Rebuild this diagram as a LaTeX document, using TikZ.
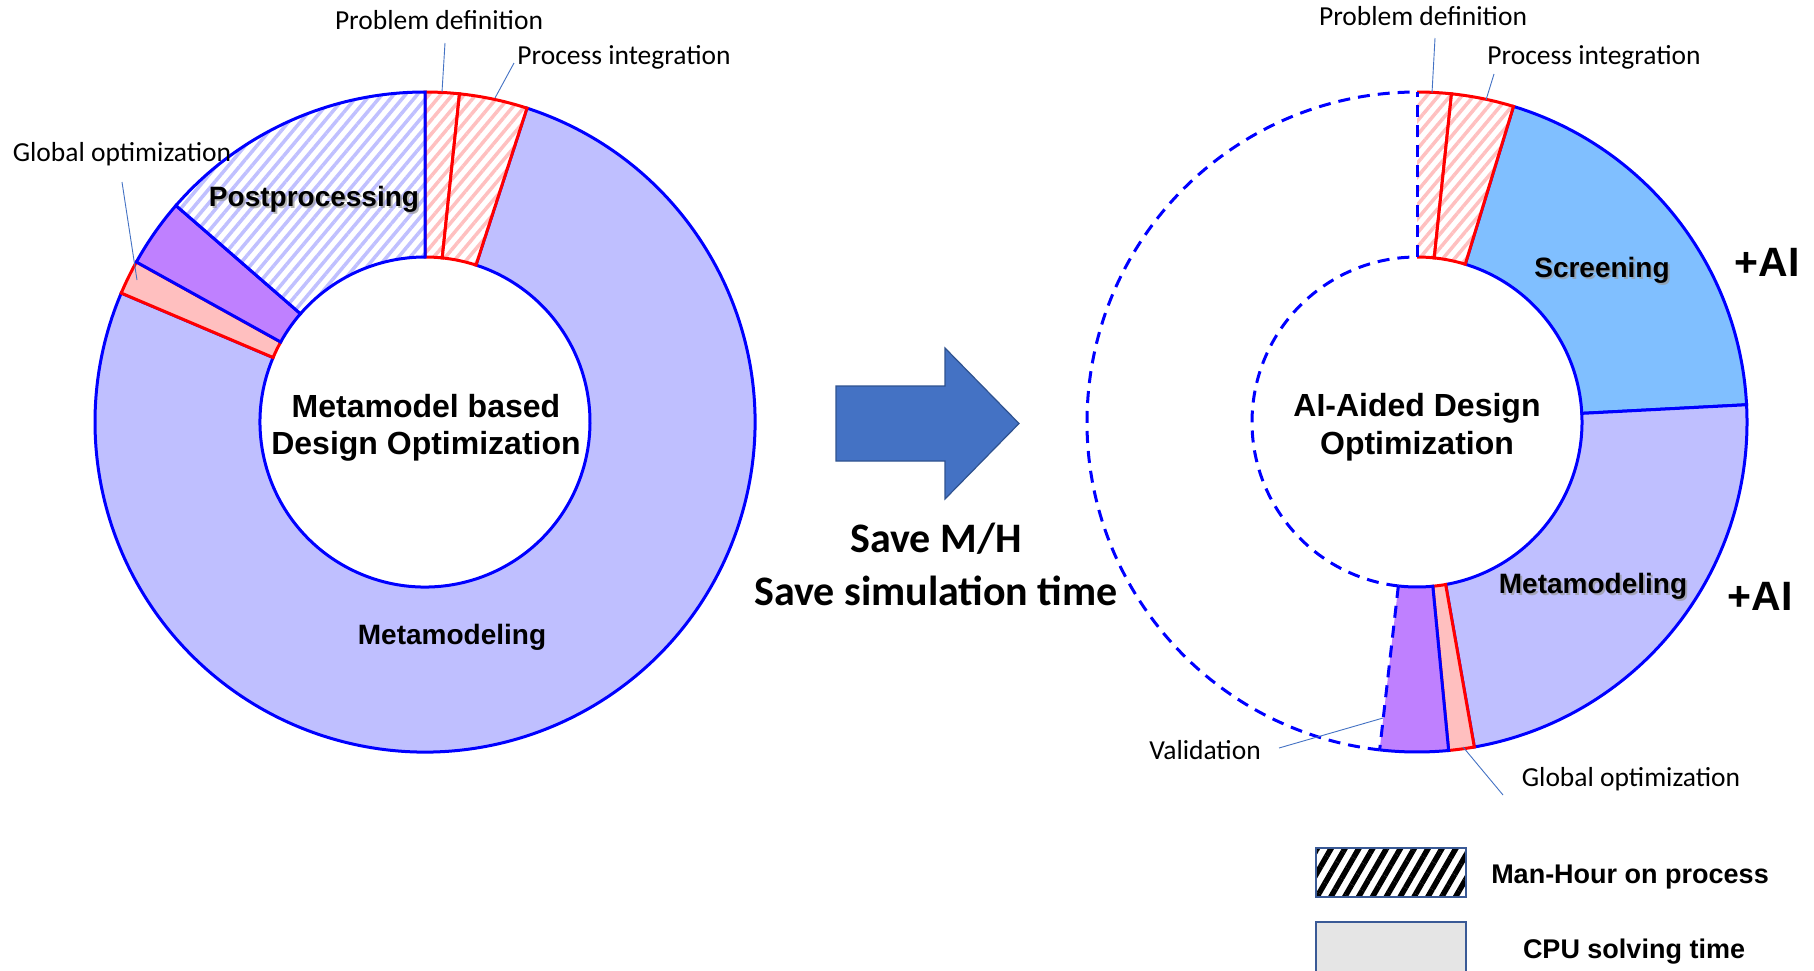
\documentclass[tikz,border=0pt]{standalone}
\usepackage{fontspec}
\setmainfont{Liberation Sans}
\newfontfamily\calfont{Carlito}
\usetikzlibrary{patterns.meta}

\definecolor{metafill}{HTML}{BFBFFF}
\definecolor{validfill}{HTML}{BF80FF}
\definecolor{optfill}{HTML}{FFBFBF}
\definecolor{screenfill}{HTML}{80BFFF}
\definecolor{hatchblue}{HTML}{C0C0FF}
\definecolor{hatchred}{HTML}{FFC0C0}
\definecolor{edgeblue}{HTML}{0000FF}
\definecolor{edgered}{HTML}{FF0000}
\definecolor{arrowfill}{HTML}{4472C4}
\definecolor{arrowedge}{HTML}{2F528F}
\definecolor{leadercol}{HTML}{4472C4}
\definecolor{legendedge}{HTML}{3A5A96}
\definecolor{legendgray}{HTML}{E5E5E5}

% ring radii
\newcommand\Ro{330}
\newcommand\Ri{165}

% closed ring sector: centre (#1,#2), clockwise angles from 12 o'clock #3..#4, options #5
\newcommand\ringsector[5]{%
  \path[#5] ({#1+\Ro*cos(90-#3)},{#2+\Ro*sin(90-#3)})
    arc[start angle={90-#3}, end angle={90-#4}, radius=\Ro]
    -- ({#1+\Ri*cos(90-#4)},{#2+\Ri*sin(90-#4)})
    arc[start angle={90-#4}, end angle={90-#3}, radius=\Ri] -- cycle;}
% same outline without the radial edge at #3
\newcommand\ringopen[5]{%
  \path[#5] ({#1+\Ro*cos(90-#3)},{#2+\Ro*sin(90-#3)})
    arc[start angle={90-#3}, end angle={90-#4}, radius=\Ro]
    -- ({#1+\Ri*cos(90-#4)},{#2+\Ri*sin(90-#4)})
    arc[start angle={90-#4}, end angle={90-#3}, radius=\Ri];}
% radial edge of a ring at clockwise angle #3, options #4
\newcommand\ringradial[4]{%
  \path[#4] ({#1+\Ri*cos(90-#3)},{#2+\Ri*sin(90-#3)})
    -- ({#1+\Ro*cos(90-#3)},{#2+\Ro*sin(90-#3)});}

\tikzset{
  x=1pt, y=1pt,
  bedge/.style={draw=edgeblue, line width=3pt},
  redge/.style={draw=edgered, line width=3pt},
  dashedge/.style={draw=edgeblue, line width=3pt, dash pattern=on 12pt off 8pt},
  bluehatch/.style={pattern={Lines[angle=50,distance=9pt,line width=3.5pt]}, pattern color=hatchblue},
  redhatch/.style={pattern={Lines[angle=50,distance=9pt,line width=3.5pt]}, pattern color=hatchred},
  smalllabel/.style={font=\calfont\fontsize{27.5}{32}\selectfont, inner sep=0pt},
  slicelabel/.style={font=\bfseries\fontsize{28}{33}\selectfont, inner sep=0pt},
  shadowtext/.style={slicelabel, text=black!40, opacity=0.7},
  centrelabel/.style={font=\bfseries\fontsize{32}{38}\selectfont, align=center, inner sep=0pt},
  ailabel/.style={font=\bfseries\fontsize{41}{48}\selectfont, inner sep=0pt},
  savelabel/.style={font=\calfont\bfseries\fontsize{42}{52}\selectfont, inner sep=0pt},
  legendlabel/.style={font=\bfseries\fontsize{27}{31}\selectfont, inner sep=0pt},
  leader/.style={draw=leadercol, line width=0.9pt},
  legendbox/.style={draw=legendedge, line width=2.2pt},
}

\begin{document}
\begin{tikzpicture}
\useasboundingbox[fill=white] (0,0) rectangle (1814,-970);

% ---------------- left ring: metamodel based design optimization ----------------
\ringsector{425}{-422}{18}{293}{fill=metafill, bedge}
\ringsector{425}{-422}{293}{299}{fill=optfill, redge}
\ringsector{425}{-422}{299}{311}{fill=validfill, bedge}
\ringsector{425}{-422}{0}{6}{fill=white}
\ringsector{425}{-422}{0}{6}{redhatch, redge}
\ringsector{425}{-422}{6}{18}{fill=white}
\ringsector{425}{-422}{6}{18}{redhatch, redge}
\ringsector{425}{-422}{311}{360}{fill=white}
\ringsector{425}{-422}{311}{360}{bluehatch, bedge}

\node[centrelabel] (lcentre) at (426,-428) {Metamodel based\\[-0.5pt]Design Optimization};
\node[shadowtext] (lpostsh) at (316,-201) {Postprocessing};
\node[slicelabel] (lpost) at (314,-199) {Postprocessing};
\node[slicelabel] (lmeta) at (452,-637) {Metamodeling};

\node[smalllabel] (lpd) at (439,-20) {Problem definition};
\node[smalllabel] (lpi) at (624,-57) {Process integration};
\node[smalllabel] (lgo) at (122,-154) {Global optimization};
\coordinate (lpd-a) at (445,-43);  \coordinate (lpd-b) at (442,-92);
\coordinate (lpi-a) at (514,-63);  \coordinate (lpi-b) at (495,-98);
\coordinate (lgo-a) at (122,-182); \coordinate (lgo-b) at (137,-280);
\draw[leader] (lpd-a) -- (lpd-b);
\draw[leader] (lpi-a) -- (lpi-b);
\draw[leader] (lgo-a) -- (lgo-b);

% ---------------- block arrow and savings ----------------
\path[fill=arrowfill, draw=arrowedge, line width=1.2pt]
  (836,-386) -- (945,-386) -- (945,-348) -- (1019,-423.5)
  -- (945,-499) -- (945,-461) -- (836,-461) -- cycle;
\node[savelabel] (save1) at (936,-539) {Save M/H};
\node[savelabel] (save2) at (936,-591) {Save simulation time};

% ---------------- right ring: AI-aided design optimization ----------------
\path[dashedge] ({1417+\Ro*cos(90-186.5)},{-422+\Ro*sin(90-186.5)})
  arc[start angle={90-186.5}, end angle={-270}, radius=\Ro];
\path[dashedge] ({1417+\Ri*cos(90-186.5)},{-422+\Ri*sin(90-186.5)})
  arc[start angle={90-186.5}, end angle={-270}, radius=\Ri];

\ringsector{1417}{-422}{17}{87}{fill=screenfill, bedge}
\ringsector{1417}{-422}{87}{170}{fill=metafill, bedge}
\ringsector{1417}{-422}{170}{174.5}{fill=optfill, redge}
\ringsector{1417}{-422}{174.5}{186.5}{fill=validfill}
\ringopen{1417}{-422}{186.5}{174.5}{bedge}
\ringradial{1417}{-422}{186.5}{dashedge}
\ringsector{1417}{-422}{0}{6}{fill=white}
\ringsector{1417}{-422}{0}{6}{redhatch}
\ringopen{1417}{-422}{0}{6}{redge}
\ringradial{1417}{-422}{0}{dashedge}
\ringsector{1417}{-422}{6}{17}{fill=white}
\ringsector{1417}{-422}{6}{17}{redhatch, redge}

\node[centrelabel] (rcentre) at (1417,-427) {AI-Aided Design\\[-0.5pt]Optimization};
\node[shadowtext] (rscreensh) at (1604,-272) {Screening};
\node[slicelabel] (rscreen) at (1602,-270) {Screening};
\node[shadowtext] (rmetash) at (1595,-588) {Metamodeling};
\node[slicelabel] (rmeta) at (1593,-586) {Metamodeling};
\node[ailabel] (ai1) at (1767,-262) {+AI};
\node[ailabel] (ai2) at (1760,-596) {+AI};

\node[smalllabel] (rpd) at (1423,-16) {Problem definition};
\node[smalllabel] (rpi) at (1594,-57) {Process integration};
\node[smalllabel] (rval) at (1205,-750) {Validation};
\node[smalllabel] (rgo) at (1631,-779) {Global optimization};
\coordinate (rpd-a) at (1435,-38);  \coordinate (rpd-b) at (1432,-93);
\coordinate (rpi-a) at (1494,-74);  \coordinate (rpi-b) at (1486,-100);
\coordinate (rval-a) at (1279,-748); \coordinate (rval-b) at (1383,-718);
\coordinate (rgo-a) at (1463,-747); \coordinate (rgo-b) at (1503,-795);
\draw[leader] (rpd-a) -- (rpd-b);
\draw[leader] (rpi-a) -- (rpi-b);
\draw[leader] (rval-a) -- (rval-b);
\draw[leader] (rgo-a) -- (rgo-b);

% ---------------- legend ----------------
\path[fill=white] (1316,-848) rectangle (1466,-897);
\path[pattern={Lines[angle=60,distance=12pt,line width=5.5pt]}, pattern color=black]
  (1316,-848) rectangle (1466,-897);
\node[legendbox, minimum width=150pt, minimum height=49pt, inner sep=0pt] (legman) at (1391,-872.5) {};
\node[legendbox, fill=legendgray, minimum width=150pt, minimum height=60pt, inner sep=0pt] (legcpu) at (1391,-952) {};
\node[legendlabel] (legmantext) at (1630,-877) {Man-Hour on process};
\node[legendlabel] (legcputext) at (1634,-952) {CPU solving time};
\end{tikzpicture}
\end{document}
